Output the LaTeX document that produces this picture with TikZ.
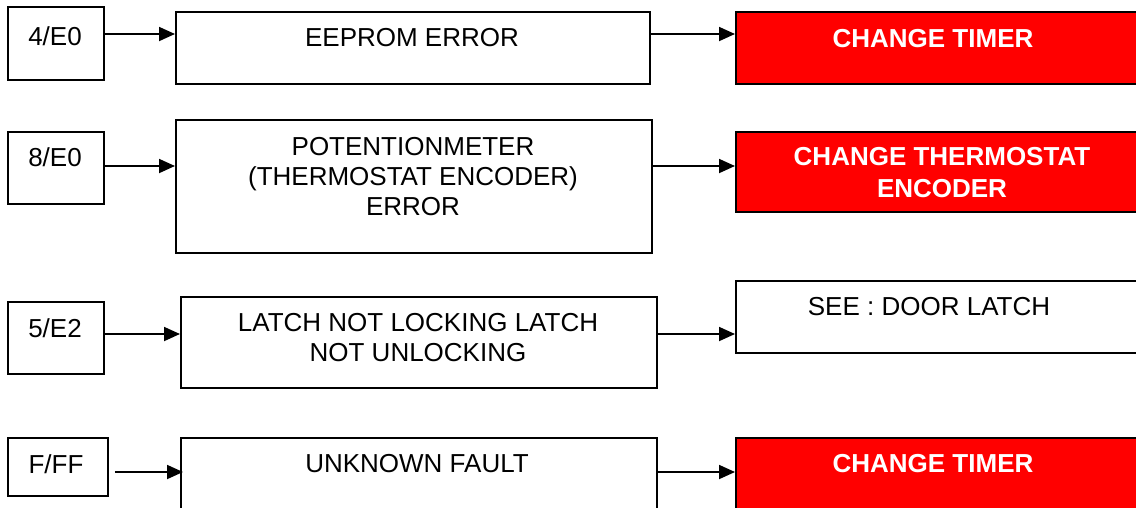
\documentclass[tikz,border=0pt]{standalone}
\usepackage{fontspec}
\setmainfont{Liberation Sans}
\usetikzlibrary{arrows.meta}
\definecolor{fixred}{RGB}{255,0,0}
\newcommand{\boxfont}{\fontsize{26}{30}\selectfont}
\tikzset{
  box/.style={draw, line width=1.8pt, rectangle, anchor=north west, inner sep=0pt},
  redbox/.style={box, fill=fixred},
  txt/.style={anchor=base, align=center, inner sep=0pt, font=\boxfont},
  redtxt/.style={txt, text=white, font=\boxfont\bfseries},
  arr/.style={line width=1.8pt, -{Triangle[length=16pt,width=14pt]}}
}

\begin{document}
\begin{tikzpicture}[x=1pt, y=-1pt]
  \useasboundingbox (0,0) rectangle (1136,507);
  \clip (0,0) rectangle (1136,507);

  \node[box, minimum width=96pt, minimum height=73pt] (code1) at (7,6) {};
  \node[box, minimum width=474pt, minimum height=72pt] (fault1) at (175,11) {};
  \node[redbox, minimum width=430pt, minimum height=72pt] (fix1) at (735,11) {};
  \node[txt] (lcode1) at (55,45) {4/E0};
  \node[txt] (lfault1) at (412,46) {EEPROM ERROR};
  \node[redtxt] (lfix1) at (933,47) {CHANGE TIMER};

  \node[box, minimum width=96pt, minimum height=72pt] (code2) at (7,131) {};
  \node[box, minimum width=476pt, minimum height=133pt] (fault2) at (175,119) {};
  \node[redbox, minimum width=430pt, minimum height=80pt] (fix2) at (735,131) {};
  \node[txt] (lcode2) at (55,166) {8/E0};
  \node[txt] (lfault2) at (413,215) {POTENTIONMETER\\(THERMOSTAT ENCODER)\\ERROR};
  \node[redtxt] (lfix2) at (942,197) {CHANGE THERMOSTAT\\[2pt]ENCODER};

  \node[box, minimum width=96pt, minimum height=72pt] (code3) at (7,301) {};
  \node[box, minimum width=476pt, minimum height=91pt] (fault3) at (180,296) {};
  \node[box, minimum width=430pt, minimum height=72pt] (fix3) at (735,280) {};
  \node[txt] (lcode3) at (55,337) {5/E2};
  \node[txt] (lfault3) at (418,361) {LATCH NOT LOCKING LATCH\\NOT UNLOCKING};
  \node[txt] (lfix3) at (929,315) {SEE : DOOR LATCH};

  \node[box, minimum width=100pt, minimum height=58pt] (code4) at (7,437) {};
  \node[box, minimum width=476pt, minimum height=100pt] (fault4) at (180,437) {};
  \node[redbox, minimum width=430pt, minimum height=100pt] (fix4) at (735,437) {};
  \node[txt] (lcode4) at (56,473) {F/FF};
  \node[txt] (lfault4) at (417,472) {UNKNOWN FAULT};
  \node[redtxt] (lfix4) at (933,472) {CHANGE TIMER};

  \coordinate (row1) at (0,34);
  \coordinate (row2) at (0,166);
  \coordinate (row3) at (0,334);
  \coordinate (row4) at (0,472);

  \draw[arr] (code1.east |- row1) -- (fault1.west |- row1);
  \draw[arr] (fault1.east |- row1) -- (fix1.west |- row1);
  \draw[arr] (code2.east |- row2) -- (fault2.west |- row2);
  \draw[arr] (fault2.east |- row2) -- (fix2.west |- row2);
  \draw[arr] (code3.east |- row3) -- (fault3.west |- row3);
  \draw[arr] (fault3.east |- row3) -- (fix3.west |- row3);
  \draw[arr, shorten <=6pt, shorten >=-3pt] (code4.east |- row4) -- (fault4.west |- row4);
  \draw[arr] (fault4.east |- row4) -- (fix4.west |- row4);
\end{tikzpicture}
\end{document}
